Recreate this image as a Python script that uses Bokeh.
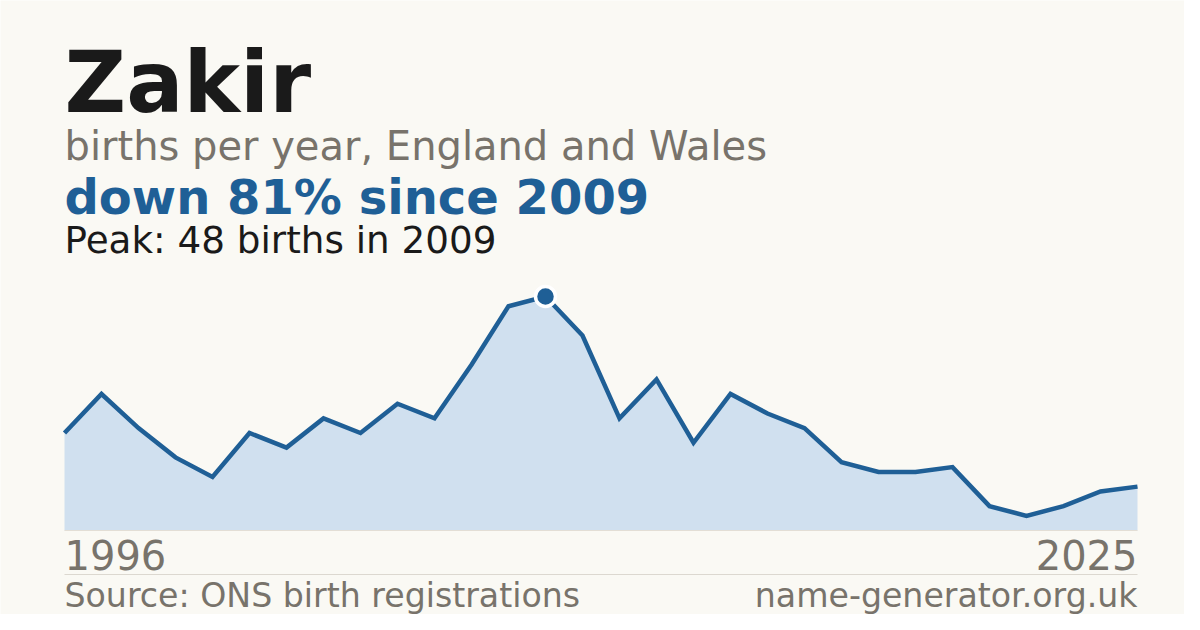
from bokeh.plotting import figure
from bokeh.models import Label, Range1d, BoxAnnotation
from bokeh.embed import file_html
from bokeh.resources import INLINE

# ---- data ----
years = list(range(1996, 2026))
births = [20, 28, 21, 15, 11, 20, 17, 23, 20, 26, 23, 34, 46, 48, 40, 23, 31, 18,
          28, 24, 21, 14, 12, 12, 13, 5, 3, 5, 8, 9]
peak_year = 2009
peak_value = 48
title = "Zakir"
subtitle = "births per year, England and Wales"
headline = "down 81% since 2009"
peak_text = "Peak: 48 births in 2009"
first_label = "1996"
last_label = "2025"
source = "Source: ONS birth registrations"
site = "name-generator.org.uk"

# ---- layout ----
W, H = 1184, 614
BG = "#faf9f4"
BLUE = "#1f5f96"
GRAY = "#78736b"
DARK = "#1a1a1a"
FONT = "DejaVu Sans"

left_px, right_px = 64, 1137
base_px, peak_px = 530, 296

px_per_year = (right_px - left_px) / (years[-1] - years[0])
px_per_unit = (base_px - peak_px) / peak_value
x0 = years[0] - left_px / px_per_year
y0 = -(H - base_px) / px_per_unit

p = figure(width=W, height=H, output_backend="svg", toolbar_location=None,
           x_range=Range1d(x0, x0 + W / px_per_year),
           y_range=Range1d(y0, y0 + H / px_per_unit),
           min_border=0, x_axis_location=None, y_axis_location=None)
p.grid.visible = False
p.outline_line_color = None
p.background_fill_color = BG
p.border_fill_color = BG


def sy(y):
    return H - y


p.varea(x=years, y1=[0] * len(years), y2=births, fill_color="#d0e0ef", fill_alpha=1.0)
p.line(x=years[:1] + years[-1:], y=[0, 0], line_color="#e3ded5", line_width=1)
p.line(x=years, y=births, line_color=BLUE, line_width=4.5, line_join="miter")
p.scatter(x=[peak_year], y=[peak_value], size=20, fill_color=BLUE,
          line_color="white", line_width=3.5)


def label(txt, x, y, size, color, bold=False, align="left"):
    p.add_layout(Label(x=x, y=sy(y) + 0.355 * size, x_units="screen", y_units="screen",
                       text=txt, text_font=FONT, text_font_size=f"{size}px",
                       text_color=color, text_align=align,
                       text_baseline="alphabetic",
                       text_font_style="bold" if bold else "normal"))


label(title, 64, 112, 85, DARK, bold=True)
label(subtitle, 64, 160, 40, GRAY)
label(headline, 64, 214, 48, BLUE, bold=True)
label(peak_text, 64, 253, 37.3, DARK)
label(first_label, 64, 569, 40, GRAY)
label(last_label, 1137, 569, 40, GRAY, align="right")
label(source, 64, 607, 33.2, GRAY)
label(site, 1137, 607, 33.2, GRAY, align="right")

p.add_layout(BoxAnnotation(left=64, right=1137, top=sy(573.5), bottom=sy(574.5),
                           left_units="screen", right_units="screen",
                           top_units="screen", bottom_units="screen",
                           fill_color="#dcd8d0", fill_alpha=1.0, line_color=None))

open("out.html", "w").write(file_html(p, INLINE))
